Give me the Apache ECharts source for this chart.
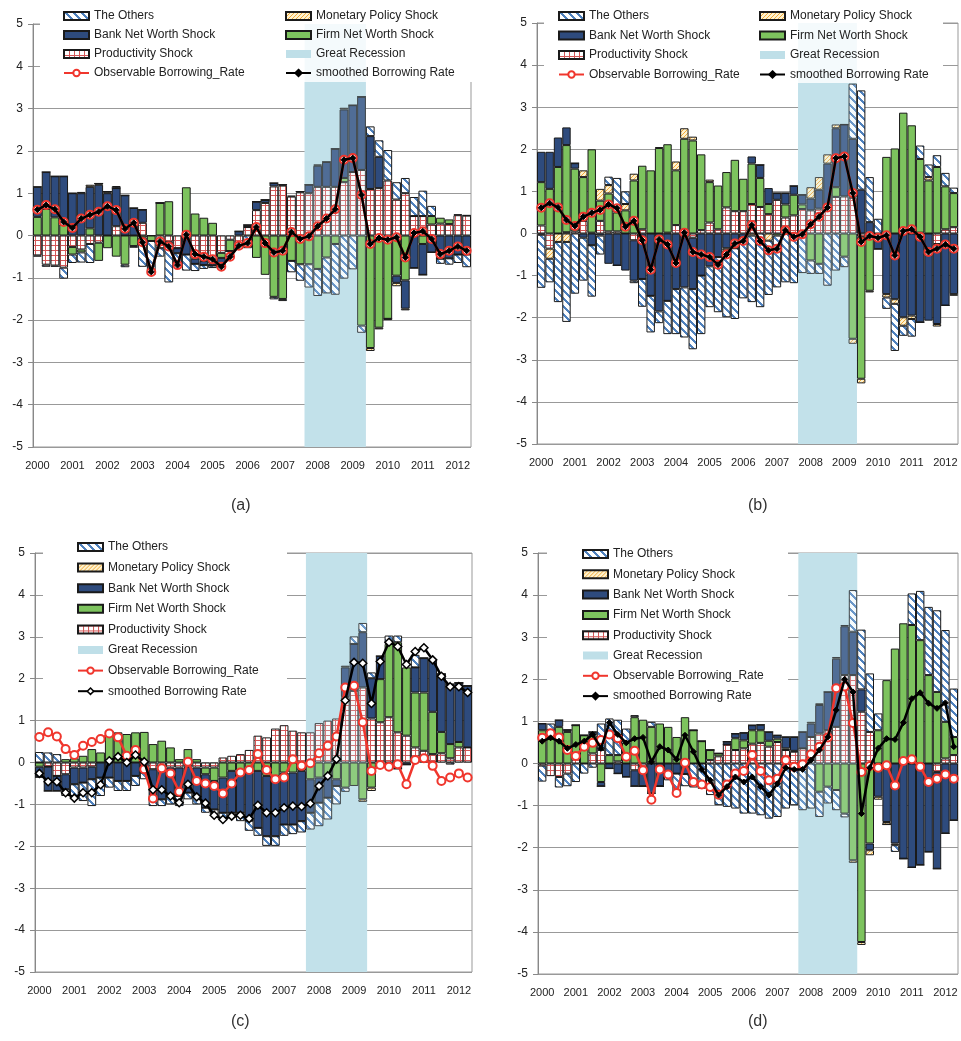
<!DOCTYPE html>
<html>
<head>
<meta charset="utf-8">
<title>Borrowing rate decomposition</title>
<script src="https://cdn.jsdelivr.net/npm/echarts@6/dist/echarts.min.js"></script>
<style>
  html, body { margin: 0; padding: 0; background: #fff; }
  #chart { width: 961px; height: 1041px; }
</style>
</head>
<body>
<div id="chart"></div>
<script>
// quarters 2000Q1 .. 2012Q2
var quarters = [];
for (var yr = 2000; yr <= 2012; yr++) {
  for (var q = 1; q <= 4; q++) quarters.push(yr + 'Q' + q);
}
quarters = quarters.slice(0, 50);
var recession = ['2007Q4', '2009Q2'];

// observable borrowing rate (same in all four panels)
var observed = [0.61,0.72,0.62,0.32,0.18,0.40,0.49,0.56,0.69,0.60,
  0.16,0.30,-0.16,-0.86,-0.14,-0.26,-0.70,0.02,-0.44,-0.50,
  -0.56,-0.74,-0.50,-0.24,-0.18,0.20,-0.18,-0.40,-0.36,0.08,
  -0.08,-0.02,0.22,0.40,0.62,1.79,1.83,0.96,-0.20,-0.06,
  -0.10,-0.04,-0.52,0.06,0.10,-0.08,-0.44,-0.36,-0.26,-0.36];

// smoothed rate in (a) and (b) lies on the observable one
var smoothedAB = observed;
var smoothedC = [-0.26,-0.46,-0.46,-0.72,-0.85,-0.72,-0.72,-0.53,0.04,0.14,
  0,0.18,0.02,-0.65,-0.65,-0.80,-0.96,-0.52,-0.82,-0.97,
  -1.26,-1.36,-1.28,-1.26,-1.34,-1.02,-1.20,-1.20,-1.08,-1.04,
  -1.05,-0.98,-0.56,-0.32,0.08,1.48,2.39,2.37,1.41,2.41,
  2.87,2.77,2.34,2.65,2.74,2.45,2.06,1.81,1.81,1.67];
var smoothedD = [0.53,0.61,0.53,0.36,0.45,0.53,0.69,0.36,0.97,0.69,
  0.49,0.59,0.62,0.04,0.40,0.32,0.10,0.67,0.28,-0.14,
  -0.40,-0.75,-0.55,-0.32,-0.44,-0.32,-0.55,-0.75,-0.48,-0.10,
  -0.14,-0.14,0.08,0.32,0.63,1.27,2.00,1.70,-1.19,-0.10,
  0.36,0.59,0.57,0.97,1.54,1.68,1.43,1.31,1.44,0.40];

// panel (a)
var aProd = [-0.47,-0.69,-0.71,-0.76,-0.27,-0.33,-0.20,-0.17,0,0.22,
  0,0,0.30,0,-0.30,-0.15,-0.30,0,-0.55,-0.60,
  -0.66,-0.41,-0.10,-0.25,0.20,0.60,0.77,1.16,1.18,0.92,
  1.02,1.00,1.15,1.15,1.15,1.26,1.50,1.55,1.10,1.12,
  1.30,0.85,1.00,0.46,0.46,0.26,0.28,0.27,0.48,0.47];
var aFirm = [0.44,0.63,0.43,0.26,-0.18,-0.07,0.17,-0.43,-0.30,-0.50,
  -0.69,-0.25,-0.05,-0.13,0.77,0.81,0,1.14,0.52,0.42,
  0.30,-0.12,-0.27,0,0,-0.53,-0.93,-1.45,-1.50,-0.60,
  -0.68,-0.68,-0.79,-0.52,-0.20,0.10,0,-2.13,-2.66,-2.18,
  -1.97,-0.95,-1.06,0,-0.20,0.20,0.14,0.11,0.02,0.01];
var aBank = [0.71,0.87,0.97,1.14,1.00,1.00,0.98,1.20,1.00,0.90,
  0.95,0.65,0.31,0,0,-0.15,-0.12,-0.45,-0.12,-0.10,
  -0.05,-0.20,0,0.10,0.05,0.20,0.07,0.08,0.02,0,
  0.02,0.20,0.50,0.59,0.90,1.62,1.58,1.73,1.25,0.74,
  0,-0.17,-0.67,-0.77,-0.73,-0.40,-0.55,-0.54,-0.45,-0.45];
var aMon = [0,0,0,0,0,0.03,0.05,0.03,0.04,0,
  0,0,0,0,0,0,0,0,0,0,
  0,0,0,0,0,0,0,0,0,0.02,
  0,0,0.03,0,0,0.04,0,0,-0.07,-0.04,
  -0.03,-0.08,-0.04,0,0,0,0,0,0,0];
var aOth = [-0.03,-0.05,-0.03,-0.26,-0.20,-0.24,-0.45,0,0,0.05,
  -0.06,-0.04,-0.69,-0.80,-0.20,-0.81,-0.30,-0.38,-0.17,-0.09,
  -0.06,0,0,-0.07,-0.30,0,0,-0.06,-0.05,-0.27,
  -0.39,-0.55,-0.64,-0.85,-1.20,-1.02,-0.80,-0.17,0.23,0.39,
  0.72,0.41,0.36,0.45,0.60,0.24,-0.12,-0.15,-0.20,-0.30];

// panel (b)
var bProd = [0.19,-0.36,0,0.03,0.05,0.30,0.02,0.30,0.05,0.05,
  0,-0.16,0.10,0,0,0.02,0.20,0,-0.10,0.08,
  0.26,0.10,0.62,0.53,0.53,0.70,0.63,0.46,0.80,0.38,
  0.43,0.58,0.55,0.59,0.67,0.87,0.88,0.85,-0.08,0,
  0,0,0,0,0,0.02,0,-0.25,0.10,0.15];
var bFirm = [1.03,1.06,1.58,2.07,1.49,1.04,1.98,0.48,0.90,0.45,
  0.55,1.26,1.51,1.50,2.03,2.10,1.30,2.25,2.21,1.80,
  0.96,1.04,0.84,1.22,0.77,0.96,0.69,0.24,-0.05,0.31,
  0.49,0.11,-0.64,-0.72,0,0.23,-0.55,-2.50,-3.37,-1.36,
  0,1.82,2.02,2.87,2.57,1.75,1.26,1.58,1.02,0.81];
var bBank = [0.72,0.88,0.70,0.42,0.13,-0.10,-0.28,-0.05,-0.72,-0.76,
  -0.88,-0.96,-1.08,-1.48,-1.85,-1.60,-1.32,-1.28,-1.22,-1.00,
  -0.78,-0.56,-0.35,-0.35,-0.10,0.17,0.31,0.38,0.16,0.27,
  0.21,0.23,0.28,0.45,0.99,1.40,1.71,1.40,1.04,0.27,
  -0.37,-1.44,-1.56,-1.99,-1.95,-2.11,-2.07,-1.90,-1.71,-1.44];
var bMon = [-0.03,-0.24,-0.20,-0.20,0,0.16,0,0.28,0.20,0,
  0.15,0.16,0,0,0.02,0,0.21,0.25,0.09,0,
  0.06,0,-0.05,0,0,-0.05,0,-0.17,0,0,
  0,0,0.27,0.30,0.22,0.09,0,-0.12,-0.11,-0.04,
  0,-0.08,-0.11,-0.20,-0.08,0,0.08,-0.06,0,-0.04];
var bOth = [-1.26,-0.56,-1.43,-1.90,-1.43,-1.02,-1.22,-0.45,0.20,0.82,
  0.30,-0.06,-0.66,-0.87,-0.28,-0.79,-1.07,-1.19,-1.43,-1.39,
  -0.97,-1.31,-1.59,-1.68,-1.44,-1.58,-1.75,-1.29,-1.23,-1.16,
  -1.18,-0.94,-0.32,-0.24,-1.24,-0.88,-0.25,1.31,2.36,1.07,
  0.35,-0.27,-1.12,-0.24,-0.42,0.32,0.30,0.28,0.32,0.13];

// panel (c)
var cProd = [0,-0.10,-0.32,-0.28,-0.12,-0.12,-0.10,0,0,0,
  0,0,0,-0.16,-0.16,-0.12,-0.12,-0.10,-0.12,-0.12,
  -0.12,0.12,0.16,0.20,0.30,0.64,0.60,0.81,0.89,0.76,
  0.72,0.72,0.94,1.00,1.05,1.56,1.71,1.79,1.05,0.96,
  1.08,0.72,0.64,0.36,0.28,0.20,0.22,0.10,0.36,0.36];
var cFirm = [-0.10,0,0,0.08,0.10,0.16,0.32,0.24,0.76,0.72,
  0.68,0.72,0.73,0.44,0.52,0.36,0.08,0.32,0.08,-0.16,
  -0.32,-0.36,-0.20,-0.24,-0.24,-0.20,-0.32,-0.32,-0.24,-0.24,
  -0.20,-0.40,-0.36,-0.32,-0.40,-0.60,-0.56,-0.88,-0.60,1.03,
  1.75,2.15,1.63,1.31,1.39,1.01,0.51,0.34,0.13,0];
var cBank = [-0.25,-0.58,-0.36,-0.36,-0.40,-0.36,-0.30,-0.36,-0.36,-0.44,
  -0.44,-0.32,-0.24,-0.72,-0.72,-0.64,-0.68,-0.62,-0.68,-0.80,
  -0.68,-0.84,-1.00,-0.96,-1.15,-1.36,-1.44,-1.44,-1.24,-1.24,
  -1.20,-0.80,-0.60,-0.52,-0.16,0.71,1.12,1.32,0.96,0.55,
  -0.10,-0.15,-0.05,0.60,0.82,1.22,1.38,1.43,1.41,1.47];
var cMon = [0,0,0,0,0,0,0,0,0,0,
  0,0,0,0,0,0,0,0,0,0,
  0,0,0,0,0,0,0,0,0,0,
  0,0,0,0,0,0.04,0,-0.06,-0.08,0,
  0,0,0,0,0,0,0,0,0,0];
var cOth = [0.25,0.24,0.20,-0.16,-0.36,-0.44,-0.64,-0.44,-0.24,-0.24,
  -0.24,-0.24,-0.16,-0.16,-0.16,-0.24,-0.24,-0.16,-0.20,-0.12,
  -0.12,-0.12,-0.12,-0.20,-0.24,-0.19,-0.23,-0.23,-0.27,-0.23,
  -0.27,-0.40,-0.56,-0.52,-0.44,-0.10,0.18,0.22,0.14,-0.10,
  0.20,0.16,0,0.30,0,0,0,-0.05,0,0];

// panel (d)
var dProd = [-0.05,-0.30,-0.32,-0.24,0.25,0,0.24,0.32,0,0.05,
  0,-0.16,-0.10,0,0,0,0,0,0,0,
  0.08,0.17,0.45,0.32,0.36,0.47,0.49,0.40,0.51,0.32,
  0.28,0.36,0.63,0.71,0.79,0.87,2.10,2.10,1.23,0.75,
  0,0,0,0,0,0,0,-0.20,0.12,0.20];
var dFirm = [0.79,0.79,0.87,0.75,0.66,0.67,0.43,-0.44,0.20,0.15,
  0.50,1.10,1.04,0.87,0.95,0.87,0.63,1.10,0.79,0.53,
  0.24,0.07,0,0.28,0.19,0.32,0.30,0.14,0.08,0.04,
  0.02,0,0,-0.67,-0.55,-0.63,-1.19,-2.30,-4.24,-1.90,
  0.79,1.98,2.73,3.33,3.29,2.93,2.10,1.70,0.87,0.43];
var dBank = [0.16,0,0.16,0.05,0,0,0.08,-0.10,-0.12,-0.24,
  -0.32,-0.38,-0.44,-0.71,-0.54,-0.20,-0.24,-0.25,0,0,
  0,0,0.07,0.11,0.18,0.12,0.13,0.21,0.08,0.27,
  0.33,0.39,0.32,0.68,0.91,1.62,1.16,1.03,0.53,-0.16,
  -0.79,-1.39,-1.90,-2.26,-2.47,-2.41,-2.10,-2.30,-1.66,-1.35];
var dMon = [0,0,0,0,0,0,0,0,0,0,
  0,0,0,0,0,0,0,0,0,0,
  0,0,0,0,0,0,0,0,0,0,
  0,0,0.04,0.04,0,0.04,0.03,-0.06,-0.07,-0.12,
  -0.07,-0.06,-0.04,0,0,0,0,0,0,0];
var dOth = [-0.38,0.16,-0.25,-0.30,-0.44,-0.24,-0.10,0.63,0.87,0.84,
  0.33,0.05,0,0.12,0,-0.20,-0.43,-0.29,-0.57,-0.60,
  -0.75,-0.99,-1.03,-1.07,-1.19,-1.19,-1.23,-1.31,-1.27,-1.07,
  -0.99,-1.11,-1.07,-0.60,-0.40,-0.48,-0.09,0.99,1.42,1.39,
  0.40,0,-0.16,0,0.75,1.17,1.62,1.94,2.18,1.15];

// ---------- styles ----------
var FONT = 'Liberation Sans';
var TXT = '#222';
var BLUE = '#2e4b7d';
var GREEN = '#7dc35e';
var RED = '#f0362d';
var REC = '#bfdfe8';

// small canvas fills for the hatched series
function pattern(size, fn) {
  var c = document.createElement('canvas');
  c.width = c.height = size;
  var ctx = c.getContext('2d');
  var img = ctx.createImageData(size, size);
  for (var y = 0; y < size; y++) {
    for (var x = 0; x < size; x++) {
      var col = fn(x, y), k = (y * size + x) * 4;
      img.data[k] = col[0]; img.data[k + 1] = col[1]; img.data[k + 2] = col[2]; img.data[k + 3] = 255;
    }
  }
  ctx.putImageData(img, 0, 0);
  return { image: c, repeat: 'repeat' };
}
var othersFill = pattern(8, function (x, y) {
  return ((x - y) % 8 + 8) % 8 < 3 ? [79, 129, 189] : [255, 255, 255];
});
var monFill = pattern(4, function (x, y) {
  return (x + y) % 4 === 0 ? [240, 170, 60] : [255, 242, 205];
});
var prodFill = pattern(5, function (x, y) {
  return (x % 5 === 0 || y % 5 === 0) ? [212, 88, 88] : [255, 255, 255];
});

var panels = [
  { grid: { left: 33, top: 24, width: 438, height: 423 }, prod: aProd, firm: aFirm, bank: aBank, mon: aMon, oth: aOth, smooth: smoothedAB, cap: '(a)', capX: 240, capY: 507 },
  { grid: { left: 537, top: 23, width: 421, height: 421 }, prod: bProd, firm: bFirm, bank: bBank, mon: bMon, oth: bOth, smooth: smoothedAB, cap: '(b)', capX: 757, capY: 507 },
  { grid: { left: 35, top: 553, width: 437, height: 419 }, prod: cProd, firm: cFirm, bank: cBank, mon: cMon, oth: cOth, smooth: smoothedC, whiteMarks: true, cap: '(c)', capX: 240, capY: 1023 },
  { grid: { left: 538, top: 553, width: 420, height: 421 }, prod: dProd, firm: dFirm, bank: dBank, mon: dMon, oth: dOth, smooth: smoothedD, cap: '(d)', capX: 757, capY: 1023 }
];

var recStart = quarters.indexOf(recession[0]);
var recEnd = quarters.indexOf(recession[1]) + 1;

var grids = [], xAxes = [], yAxes = [], series = [], graphics = [];

panels.forEach(function (p, i) {
  grids.push(Object.assign({ show: true, borderColor: '#999', borderWidth: 1, backgroundColor: 'transparent' }, p.grid));
  xAxes.push({
    type: 'category', gridIndex: i, data: quarters,
    axisLine: { show: false }, axisTick: { show: false }, splitLine: { show: false },
    axisLabel: { interval: 3, margin: 13, fontSize: 11, color: TXT, fontFamily: FONT,
      formatter: function (v) { return v.slice(0, 4); } }
  });
  xAxes.push({ type: 'value', gridIndex: i, min: 0, max: 50, show: false });
  yAxes.push({
    type: 'value', gridIndex: i, min: -5, max: 5, interval: 1,
    axisLine: { show: true, lineStyle: { color: '#888' } },
    axisTick: { show: true, length: 5, lineStyle: { color: '#888' } },
    axisLabel: { margin: 10, fontSize: 12, color: TXT, fontFamily: FONT },
    splitLine: { show: true, lineStyle: { color: '#999', width: 1 } }
  });

  function bar(name, data, color) {
    return {
      type: 'bar', name: name, xAxisIndex: 2 * i, yAxisIndex: i, stack: 'shock' + i,
      data: data, barCategoryGap: '0%', z: 2,
      itemStyle: { color: color, borderColor: '#1a1a1a', borderWidth: 1 },
      emphasis: { disabled: true }
    };
  }
  // stacking order from zero outward
  series.push(bar('Productivity Shock', p.prod, prodFill));
  series.push(bar('Firm Net Worth Shock', p.firm, GREEN));
  series.push(bar('Bank Net Worth Shock', p.bank, BLUE));
  series.push(bar('Monetary Policy Shock', p.mon, monFill));
  series.push(bar('The Others', p.oth, othersFill));

  // recession band behind the bars, plus a faint wash over them
  series.push({
    type: 'line', name: 'Great Recession', xAxisIndex: 2 * i + 1, yAxisIndex: i, data: [],
    itemStyle: { color: REC }, lineStyle: { opacity: 0 }, silent: true,
    markArea: { silent: true, z: 1, itemStyle: { color: REC }, data: [[{ xAxis: recStart }, { xAxis: recEnd }]] }
  });
  series.push({
    type: 'line', name: 'Great Recession', xAxisIndex: 2 * i + 1, yAxisIndex: i, data: [],
    itemStyle: { color: REC }, lineStyle: { opacity: 0 }, silent: true,
    markArea: { silent: true, z: 3, itemStyle: { color: 'rgba(205,232,240,0.22)' }, data: [[{ xAxis: recStart }, { xAxis: recEnd }]] }
  });

  series.push({
    type: 'line', name: 'Observable Borrowing_Rate', xAxisIndex: 2 * i, yAxisIndex: i,
    data: observed, z: 5, symbol: 'circle', symbolSize: 8, showAllSymbol: true,
    lineStyle: { color: RED, width: 2.5 },
    itemStyle: { color: '#fff', borderColor: RED, borderWidth: 2 },
    emphasis: { disabled: true }
  });
  series.push({
    type: 'line', name: 'smoothed Borrowing Rate', xAxisIndex: 2 * i, yAxisIndex: i,
    data: p.smooth, z: 6, symbol: 'diamond', symbolSize: p.whiteMarks ? 8 : 6, showAllSymbol: true,
    lineStyle: { color: '#000', width: 2.5 },
    itemStyle: p.whiteMarks ? { color: '#fff', borderColor: '#000', borderWidth: 1.5 } : { color: '#000', borderColor: '#000', borderWidth: 1 },
    emphasis: { disabled: true }
  });

  graphics.push({ type: 'text', left: p.capX - 9, top: p.capY - 9, z: 5,
    style: { text: p.cap, fontSize: 16, fontFamily: FONT, fill: '#333' } });
});

// white boxes behind the legends
[[40, 0, 432, 82], [544, 0, 399, 83], [43, 535, 244, 165], [547, 540, 241, 165]].forEach(function (r) {
  graphics.push({ type: 'rect', shape: { x: r[0], y: r[1], width: r[2], height: r[3] }, z: 3, silent: true,
    style: { fill: '#fff' } });
});

function item(name) {
  if (name === 'Great Recession') return { name: name, icon: 'rect', itemStyle: { color: REC, borderWidth: 0 } };
  if (name.indexOf('Rate') >= 0) return { name: name };
  return { name: name, icon: 'rect' };
}
function legendCol(left, firstCenter, step, names) {
  return {
    orient: 'vertical', left: left, top: firstCenter - 6, itemGap: step - 12,
    itemWidth: 25, itemHeight: 8, padding: 0, selectedMode: false, z: 6,
    textStyle: { fontSize: 12, color: TXT, fontFamily: FONT },
    data: names.map(item)
  };
}
var colA = ['The Others', 'Bank Net Worth Shock', 'Productivity Shock', 'Observable Borrowing_Rate'];
var colB = ['Monetary Policy Shock', 'Firm Net Worth Shock', 'Great Recession', 'smoothed Borrowing Rate'];
var allNames = ['The Others', 'Monetary Policy Shock', 'Bank Net Worth Shock', 'Firm Net Worth Shock',
  'Productivity Shock', 'Great Recession', 'Observable Borrowing_Rate', 'smoothed Borrowing Rate'];

var legendC = legendCol(77, 547, 20.6, allNames);
legendC.data[7] = { name: 'smoothed Borrowing Rate', itemStyle: { color: '#fff', borderColor: '#000', borderWidth: 1.5 } };

var legends = [
  legendCol(63, 16, 19, colA),
  legendCol(285, 16, 19, colB),
  legendCol(558, 16, 19.5, colA),
  legendCol(759, 16, 19.5, colB),
  legendC,
  legendCol(582, 554, 20.3, allNames)
];

var chart = echarts.init(document.getElementById('chart'), null, { renderer: 'canvas' });
chart.setOption({
  animation: false,
  backgroundColor: '#fff',
  textStyle: { fontFamily: FONT },
  grid: grids,
  xAxis: xAxes,
  yAxis: yAxes,
  legend: legends,
  graphic: graphics,
  series: series
});
</script>
</body>
</html>
